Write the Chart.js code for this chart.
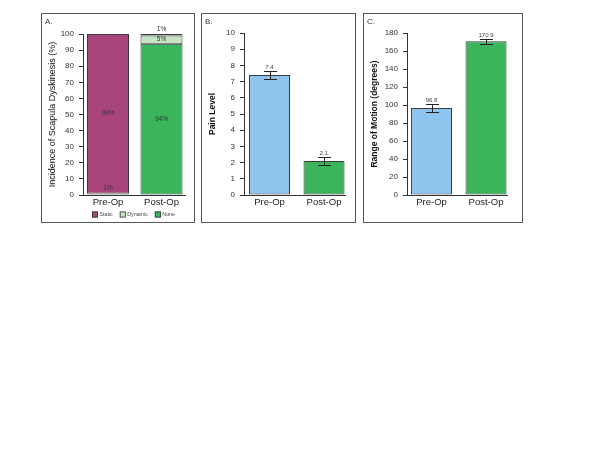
<!DOCTYPE html>
<html><head><meta charset="utf-8">
<script src="https://cdn.jsdelivr.net/npm/chart.js@4.4.0/dist/chart.umd.min.js"></script>
<style>
html,body{margin:0;padding:0;background:#fff;}
body{width:594px;height:459px;position:relative;overflow:hidden;font-family:"Liberation Sans",Arial,sans-serif;}
.panel{position:absolute;border:1px solid #555;box-sizing:border-box;background:#fff;}
.panel canvas{position:absolute;left:0;top:0;}
.letter{position:absolute;left:3px;top:3px;font-size:8px;line-height:9px;color:#333;}
</style></head>
<body>
<div class="panel" id="pA" style="left:41px;top:13px;width:154px;height:210px;"><canvas id="cA" width="152" height="208"></canvas><div class="letter">A.</div></div>
<div class="panel" id="pB" style="left:201px;top:13px;width:155px;height:210px;"><canvas id="cB" width="153" height="208"></canvas><div class="letter">B.</div></div>
<div class="panel" id="pC" style="left:363px;top:13px;width:160px;height:210px;"><canvas id="cC" width="158" height="208"></canvas><div class="letter">C.</div></div>
<script>
// ---- data ----
const categories = ['Pre-Op', 'Post-Op'];
const dyskinesisTypes = ['Static', 'Dynamic', 'None'];
const staticPct = [99, 1];
const dynamicPct = [1, 5];
const nonePct = [0, 94];
const painMean = [7.4, 2.1];
const painErr = [0.25, 0.25];
const romMean = [96.8, 170.9];
const romErr = [4.4, 2.6];

const FONT = '"Liberation Sans", Arial, sans-serif';
Chart.defaults.font.family = FONT;

const C_STATIC = '#A9437B', C_DYN = '#C4E6C1', C_NONE = '#3BB55B', C_BLUE = '#8EC5EE';
const toPts = arr => arr.map((v, i) => ({x: i, y: v}));

function xScale(min, max, h) {
  return {
    type: 'linear', min: min, max: max, offset: false,
    afterBuildTicks: s => { s.ticks = categories.map((c, i) => ({value: i})); },
    ticks: {callback: v => categories[v] ?? '', font: {size: 9.5}, color: '#222', padding: 2, maxRotation: 0, autoSkip: false},
    grid: {display: false, drawTicks: false, tickLength: 0},
    border: {display: true, color: '#333', width: 1},
    afterFit: s => { s.height = h; }
  };
}
function yScale(max, step, title, bold, w) {
  return {
    min: 0, max: max,
    ticks: {stepSize: step, font: {size: 8}, color: '#333', padding: 5},
    grid: {display: true, drawOnChartArea: false, drawTicks: true, tickLength: 4, tickColor: '#333', color: '#333'},
    border: {display: true, color: '#333', width: 1},
    title: {display: true, text: title, color: '#111', font: {size: bold ? 8.5 : 9, weight: bold ? 'bold' : 'normal'}, padding: {top: bold ? 6 : 5, bottom: 0}},
    afterFit: s => { s.width = w; }
  };
}

const segLabels = {
  id: 'segLabels',
  afterDatasetsDraw(chart) {
    const ctx = chart.ctx;
    ctx.save();
    ctx.font = '6.5px ' + FONT; ctx.fillStyle = '#333';
    ctx.textAlign = 'center'; ctx.textBaseline = 'middle';
    chart.data.datasets.forEach((ds, di) => {
      chart.getDatasetMeta(di).data.forEach((bar, i) => {
        const v = ds.data[i].y; if (!v) return;
        const h = Math.abs(bar.base - bar.y);
        const y = h >= 8 ? (bar.y + bar.base) / 2 : Math.min(bar.y, bar.base) - 5;
        ctx.fillText(v + '%', bar.x, y);
      });
    });
    // legend
    ctx.font = '5.3px ' + FONT; ctx.textAlign = 'left';
    let x = 50; const top = 197.5;
    dyskinesisTypes.forEach(name => {
      const ds = chart.data.datasets.find(d => d.label === name);
      ctx.fillStyle = ds.backgroundColor; ctx.fillRect(x, top, 6, 6);
      ctx.strokeStyle = '#333'; ctx.lineWidth = 0.8; ctx.strokeRect(x + 0.4, top + 0.4, 5.2, 5.2);
      ctx.fillStyle = '#444'; ctx.fillText(name, x + 7.5, top + 3.3);
      x += 7.5 + ctx.measureText(name).width + 7;
    });
    ctx.restore();
  }
};

const errBars = {
  id: 'errBars',
  afterDatasetsDraw(chart) {
    const ctx = chart.ctx, ys = chart.scales.y;
    ctx.save();
    chart.data.datasets.forEach((ds, di) => {
      chart.getDatasetMeta(di).data.forEach((bar, i) => {
        const v = ds.data[i].y, e = ds.errors[i];
        const yt = Math.round(ys.getPixelForValue(v + e)) + 0.5, yb = Math.round(ys.getPixelForValue(v - e)) + 0.5;
        const x = Math.round(bar.x) + 0.5;
        ctx.strokeStyle = '#222'; ctx.lineWidth = 1;
        ctx.beginPath();
        ctx.moveTo(x, yt); ctx.lineTo(x, yb);
        ctx.moveTo(x - 6.5, yt); ctx.lineTo(x + 6.5, yt);
        ctx.moveTo(x - 6.5, yb); ctx.lineTo(x + 6.5, yb);
        ctx.stroke();
        ctx.font = '6px ' + FONT; ctx.fillStyle = '#444';
        ctx.textAlign = 'center'; ctx.textBaseline = 'bottom';
        ctx.fillText(String(v), bar.x, yt - 1);
      });
    });
    ctx.restore();
  }
};

const common = {responsive: false, animation: false, devicePixelRatio: 1,
  plugins: {legend: {display: false}, tooltip: {enabled: false}}};

new Chart(document.getElementById('cA'), {
  type: 'bar',
  data: {datasets: [
    {label: 'None', data: toPts(nonePct), backgroundColor: C_NONE},
    {label: 'Dynamic', data: toPts(dynamicPct), backgroundColor: C_DYN},
    {label: 'Static', data: toPts(staticPct), backgroundColor: C_STATIC}
  ].map(d => Object.assign(d, {borderColor: '#3a3a3a', borderWidth: 1, borderSkipped: false, barPercentage: 0.785, categoryPercentage: 1}))},
  options: Object.assign({}, common, {
    layout: {padding: {left: 0, top: 20, right: 9, bottom: 0}},
    scales: {
      x: Object.assign(xScale(-0.467, 1.439, 27), {stacked: true}),
      y: Object.assign(yScale(100, 10, 'Incidence of Scapula Dyskinesis (%)', false, 41), {stacked: true})
    }
  }),
  plugins: [segLabels]
});

new Chart(document.getElementById('cB'), {
  type: 'bar',
  data: {datasets: [{label: 'Pain Level', data: toPts(painMean), errors: painErr,
    backgroundColor: [C_BLUE, C_NONE], borderColor: '#3a3a3a', borderWidth: 1, borderSkipped: false,
    barPercentage: 0.752, categoryPercentage: 1}]},
  options: Object.assign({}, common, {
    layout: {padding: {left: 0, top: 19, right: 10, bottom: 0}},
    scales: {x: xScale(-0.468, 1.385, 27), y: yScale(10, 1, 'Pain Level', true, 42)}
  }),
  plugins: [errBars]
});

new Chart(document.getElementById('cC'), {
  type: 'bar',
  data: {datasets: [{label: 'Range of Motion', data: toPts(romMean), errors: romErr,
    backgroundColor: [C_BLUE, C_NONE], borderColor: '#3a3a3a', borderWidth: 1, borderSkipped: false,
    barPercentage: 0.752, categoryPercentage: 1}]},
  options: Object.assign({}, common, {
    layout: {padding: {left: 0, top: 19, right: 15, bottom: 0}},
    scales: {x: xScale(-0.45, 1.385, 27), y: yScale(180, 20, 'Range of Motion (degrees)', true, 43)}
  }),
  plugins: [errBars]
});
</script>
</body></html>
